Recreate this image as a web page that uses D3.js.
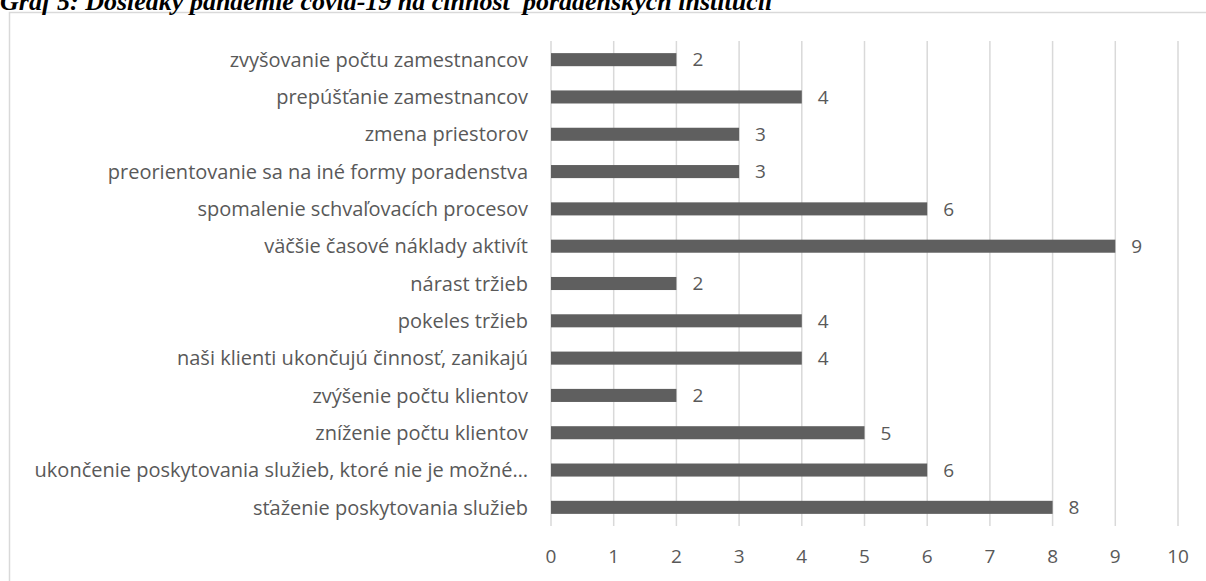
<!DOCTYPE html>
<html>
<head>
<meta charset="utf-8">
<script src="https://cdn.jsdelivr.net/npm/d3@7"></script>
<style>
  body { margin: 0; background: #fff; }
  svg text { font-family: 'Open Sans', sans-serif; }
</style>
</head>
<body>
<div id="chart"></div>
<script>
var title = 'Graf 5: Dôsledky pandémie covid-19 na činnosť poradenských inštitúcií'

var categories = [
  'zvyšovanie počtu zamestnancov',
  'prepúšťanie zamestnancov',
  'zmena priestorov',
  'preorientovanie sa na iné formy poradenstva',
  'spomalenie schvaľovacích procesov',
  'väčšie časové náklady aktivít',
  'nárast tržieb',
  'pokeles tržieb ',
  'naši klienti ukončujú činnosť, zanikajú',
  'zvýšenie počtu klientov ',
  'zníženie počtu klientov',
  'ukončenie poskytovania služieb, ktoré nie je možné…',
  'sťaženie poskytovania služieb'
]
var values = [2, 4, 3, 3, 6, 9, 2, 4, 4, 2, 5, 6, 8]
var ticks = [0, 1, 2, 3, 4, 5, 6, 7, 8, 9, 10]

var width = 1206
var height = 581

var margin = {
  top: 41,
  left: 551,
  bottom: 55,
  right: 28
}

var textColor = '#595959'

var svg = d3.select('#chart').append('svg')
  .attr('width', width)
  .attr('height', height)

// chart frame
svg.append('rect')
  .attr('x', 9.5)
  .attr('y', 12.5)
  .attr('width', 1200)
  .attr('height', 600)
  .attr('fill', 'none')
  .attr('stroke', '#d9d9d9')
  .attr('stroke-width', 1.5)

// title is clipped by the top edge, as in the source figure
svg.append('text')
  .attr('x', 0)
  .attr('y', 10)
  .style('font-family', "'Liberation Serif', serif")
  .style('font-weight', 'bold')
  .style('font-style', 'italic')
  .style('font-size', '26px')
  .attr('fill', '#000')
  .text(title)

var x = d3.scaleLinear()
  .domain([0, 10])
  .range([margin.left, width - margin.right])

var y = d3.scaleBand()
  .domain(categories)
  .range([margin.top, height - margin.bottom])
  .paddingInner(0.65)
  .paddingOuter(0.325)

// gridlines
svg.append('g')
  .selectAll('line')
  .data(ticks)
  .enter().append('line')
  .attr('x1', function (d) { return x(d) })
  .attr('x2', function (d) { return x(d) })
  .attr('y1', margin.top)
  .attr('y2', height - margin.bottom)
  .attr('stroke', '#d9d9d9')
  .attr('stroke-width', 1.5)

// tick labels
svg.append('g')
  .selectAll('text')
  .data(ticks)
  .enter().append('text')
  .attr('x', function (d) { return x(d) })
  .attr('y', 563)
  .attr('text-anchor', 'middle')
  .attr('fill', textColor)
  .style('font-size', '19px')
  .text(function (d) { return d })

// bars
svg.append('g')
  .selectAll('rect')
  .data(values)
  .enter().append('rect')
  .attr('x', x(0))
  .attr('y', function (d, i) { return y(categories[i]) })
  .attr('width', function (d) { return x(d) - x(0) })
  .attr('height', y.bandwidth())
  .attr('fill', '#5f5f5f')

// value labels
svg.append('g')
  .selectAll('text')
  .data(values)
  .enter().append('text')
  .attr('x', function (d) { return x(d) + 16 })
  .attr('y', function (d, i) { return y(categories[i]) + y.bandwidth() / 2 })
  .attr('dy', '0.36em')
  .attr('fill', textColor)
  .style('font-size', '19px')
  .text(function (d) { return d })

// category labels
svg.append('g')
  .selectAll('text')
  .data(categories)
  .enter().append('text')
  .attr('x', 528)
  .attr('y', function (d) { return y(d) + y.bandwidth() / 2 })
  .attr('dy', '0.36em')
  .attr('text-anchor', 'end')
  .attr('fill', textColor)
  .style('font-size', '20px')
  .text(function (d) { return d.trim() })
</script>
</body>
</html>
